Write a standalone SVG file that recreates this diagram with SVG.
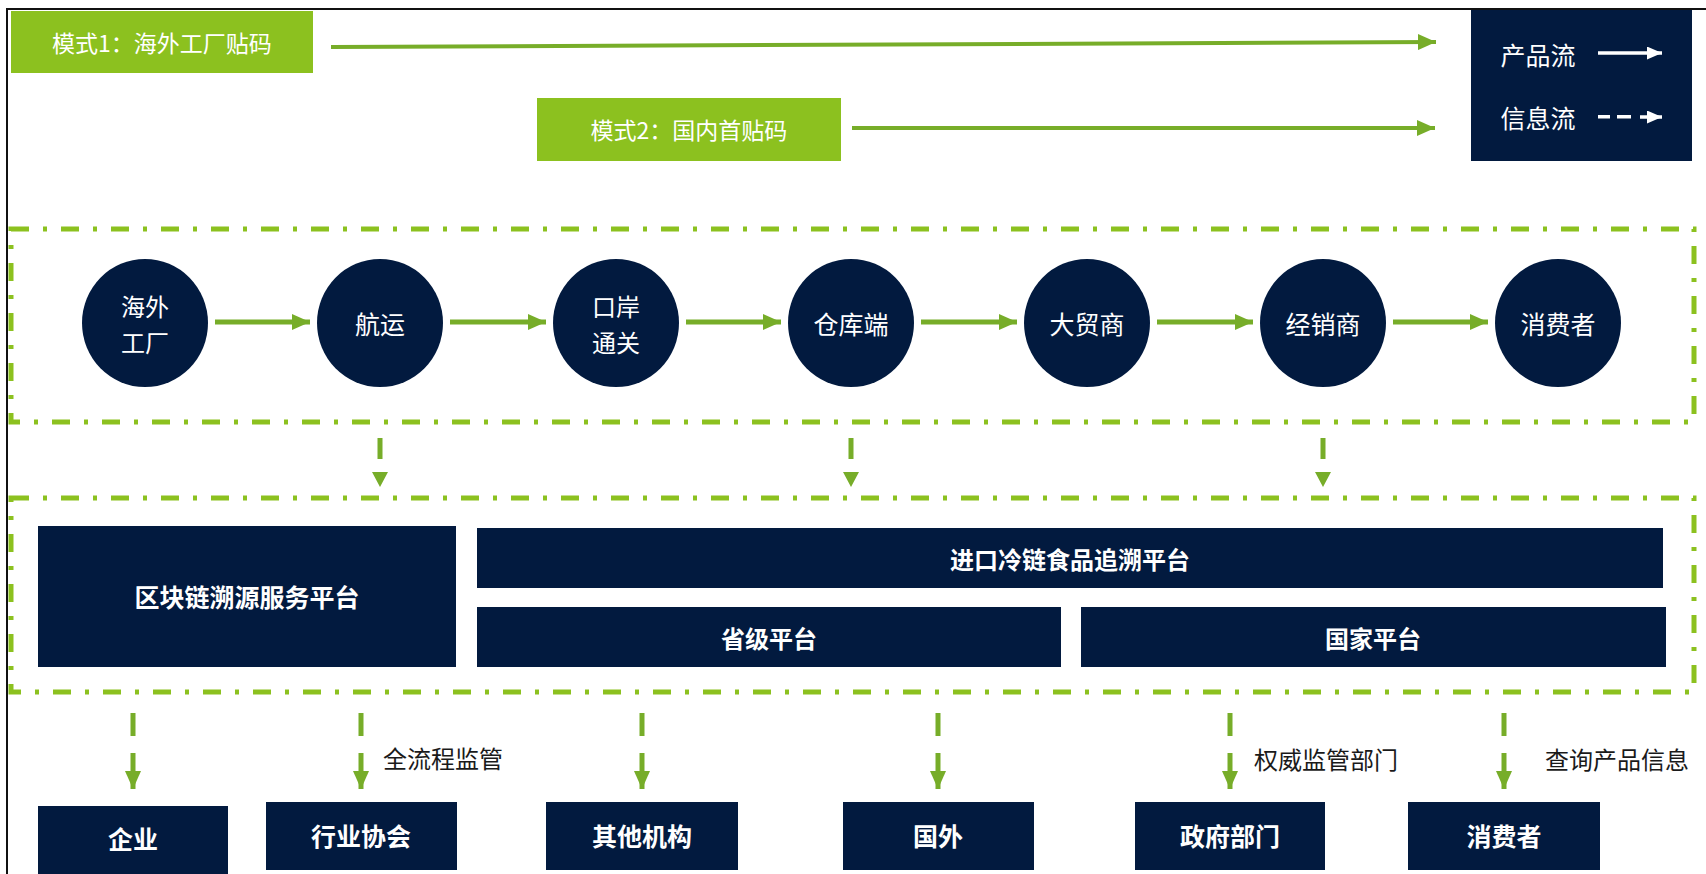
<svg xmlns="http://www.w3.org/2000/svg" width="1706" height="874" viewBox="0 0 1706 874">
<defs>
<style>
.bg{fill:#ffffff}
.navy{fill:#021a3f}
.gbox{fill:#8cc11f}
.t{font-family:"Noto Sans CJK SC","Noto Sans",sans-serif;fill:#ffffff;text-anchor:middle;dominant-baseline:central}
.tb{font-weight:bold}
.lbl{font-family:"Noto Sans CJK SC","Noto Sans",sans-serif;fill:#1a1a1a;font-size:24px;dominant-baseline:central}
.dd{fill:none;stroke:#8cc11f;stroke-width:5;stroke-dasharray:18 14 4 14}
.flow{stroke:#77ad29;stroke-width:5;fill:none}
.mline{stroke:#77ad29;stroke-width:4;fill:none}
.gfill{fill:#77ad29}
</style>
<marker id="ah" markerUnits="userSpaceOnUse" markerWidth="18" markerHeight="16" viewBox="0 0 18 16" refX="18" refY="8" orient="auto">
<path d="M0,0 L18,8 L0,16 Z" fill="#77ad29"/>
</marker>
<marker id="ahw" markerUnits="userSpaceOnUse" markerWidth="15" markerHeight="13" viewBox="0 0 15 13" refX="15" refY="6.5" orient="auto">
<path d="M0,0 L15,6.5 L0,13 Z" fill="#ffffff"/>
</marker>
</defs>
<rect class="bg" x="0" y="0" width="1706" height="874"/>
<g id="frame">
<line x1="6" y1="9" x2="1706" y2="9" stroke="#111" stroke-width="2"/>
<line x1="7" y1="9" x2="7" y2="874" stroke="#111" stroke-width="2"/>
</g>

<g id="mode1">
<rect class="gbox" x="11" y="11" width="302" height="62"/>
<text class="t" x="162" y="42" font-size="23">模式1：海外工厂贴码</text>
</g>
<g id="mode2">
<rect class="gbox" x="537" y="98" width="304" height="63"/>
<text class="t" x="689" y="129" font-size="23">模式2：国内首贴码</text>
</g>
<g id="legend">
<rect class="navy" x="1471" y="10" width="221" height="151"/>
<text class="t" x="1538" y="54" font-size="25">产品流</text>
<text class="t" x="1538" y="117" font-size="25">信息流</text>
<line x1="1598" y1="53" x2="1662" y2="53" stroke="#fff" stroke-width="3.5" marker-end="url(#ahw)"/>
<rect x="1598" y="115" width="12" height="3.5" fill="#fff"/>
<rect x="1617" y="115" width="14" height="3.5" fill="#fff"/>
<line x1="1640" y1="117" x2="1662" y2="117" stroke="#fff" stroke-width="3.5" marker-end="url(#ahw)"/>
</g>

<g id="stage-frame">
<rect class="dd" x="11" y="229" width="1683" height="193"/>
</g>
<g id="platform-frame">
<rect class="dd" x="11" y="498" width="1683" height="194"/>
</g>

<g id="c1"><ellipse class="navy" cx="145" cy="323" rx="63" ry="64"/>
<text class="t" x="145" y="305" font-size="24">海外</text><text class="t" x="145" y="341" font-size="24">工厂</text></g>
<g id="c2"><ellipse class="navy" cx="380" cy="323" rx="63" ry="64"/>
<text class="t" x="380" y="323" font-size="25">航运</text></g>
<g id="c3"><ellipse class="navy" cx="616" cy="323" rx="63" ry="64"/>
<text class="t" x="616" y="305" font-size="24">口岸</text><text class="t" x="616" y="341" font-size="24">通关</text></g>
<g id="c4"><ellipse class="navy" cx="851" cy="323" rx="63" ry="64"/>
<text class="t" x="851" y="323" font-size="25">仓库端</text></g>
<g id="c5"><ellipse class="navy" cx="1087" cy="323" rx="63" ry="64"/>
<text class="t" x="1087" y="323" font-size="25">大贸商</text></g>
<g id="c6"><ellipse class="navy" cx="1323" cy="323" rx="63" ry="64"/>
<text class="t" x="1323" y="323" font-size="25">经销商</text></g>
<g id="c7"><ellipse class="navy" cx="1558" cy="323" rx="63" ry="64"/>
<text class="t" x="1558" y="323" font-size="25">消费者</text></g>

<g id="p-blockchain"><rect class="navy" x="38" y="526" width="418" height="141"/>
<text class="t tb" x="247" y="596" font-size="25">区块链溯源服务平台</text></g>
<g id="p-import"><rect class="navy" x="477" y="528" width="1186" height="60"/>
<text class="t tb" x="1070" y="558" font-size="24">进口冷链食品追溯平台</text></g>
<g id="p-province"><rect class="navy" x="477" y="607" width="584" height="60"/>
<text class="t tb" x="769" y="637" font-size="24">省级平台</text></g>
<g id="p-nation"><rect class="navy" x="1081" y="607" width="585" height="60"/>
<text class="t tb" x="1373" y="637" font-size="24">国家平台</text></g>

<g id="u1"><rect class="navy" x="38" y="806" width="190" height="70"/>
<text class="t tb" x="133" y="838" font-size="25">企业</text></g>
<g id="u2"><rect class="navy" x="266" y="802" width="191" height="68"/>
<text class="t tb" x="361" y="835" font-size="25">行业协会</text></g>
<g id="u3"><rect class="navy" x="546" y="802" width="192" height="68"/>
<text class="t tb" x="642" y="835" font-size="25">其他机构</text></g>
<g id="u4"><rect class="navy" x="843" y="802" width="191" height="68"/>
<text class="t tb" x="938" y="835" font-size="25">国外</text></g>
<g id="u5"><rect class="navy" x="1135" y="802" width="190" height="68"/>
<text class="t tb" x="1230" y="835" font-size="25">政府部门</text></g>
<g id="u6"><rect class="navy" x="1408" y="802" width="192" height="68"/>
<text class="t tb" x="1504" y="835" font-size="25">消费者</text></g>

<g id="connectors">
<line class="mline" x1="331" y1="47" x2="1436" y2="42" marker-end="url(#ah)"/>
<line class="mline" x1="852" y1="128" x2="1435" y2="128" marker-end="url(#ah)"/>

<line class="flow" x1="215" y1="322" x2="310" y2="322" marker-end="url(#ah)"/>
<line class="flow" x1="450" y1="322" x2="546" y2="322" marker-end="url(#ah)"/>
<line class="flow" x1="686" y1="322" x2="781" y2="322" marker-end="url(#ah)"/>
<line class="flow" x1="921" y1="322" x2="1017" y2="322" marker-end="url(#ah)"/>
<line class="flow" x1="1157" y1="322" x2="1253" y2="322" marker-end="url(#ah)"/>
<line class="flow" x1="1393" y1="322" x2="1488" y2="322" marker-end="url(#ah)"/>

<g class="gfill">
<rect x="377.5" y="438" width="5" height="21"/><path d="M372,472 L388,472 L380,487 Z"/>
<rect x="848.5" y="438" width="5" height="21"/><path d="M843,472 L859,472 L851,487 Z"/>
<rect x="1320.5" y="438" width="5" height="21"/><path d="M1315,472 L1331,472 L1323,487 Z"/>

<rect x="130.5" y="713" width="5" height="23"/>
<rect x="358.5" y="713" width="5" height="23"/>
<rect x="639.5" y="713" width="5" height="23"/>
<rect x="935.5" y="713" width="5" height="23"/>
<rect x="1227.5" y="713" width="5" height="23"/>
<rect x="1501.5" y="713" width="5" height="23"/>
</g>
<line class="flow" x1="133" y1="753" x2="133" y2="789" marker-end="url(#ah)"/>
<line class="flow" x1="361" y1="753" x2="361" y2="789" marker-end="url(#ah)"/>
<line class="flow" x1="642" y1="753" x2="642" y2="789" marker-end="url(#ah)"/>
<line class="flow" x1="938" y1="753" x2="938" y2="789" marker-end="url(#ah)"/>
<line class="flow" x1="1230" y1="753" x2="1230" y2="789" marker-end="url(#ah)"/>
<line class="flow" x1="1504" y1="753" x2="1504" y2="789" marker-end="url(#ah)"/>

<text class="lbl" x="383" y="757">全流程监管</text>
<text class="lbl" x="1254" y="758">权威监管部门</text>
<text class="lbl" x="1545" y="758">查询产品信息</text>
</g>
</svg>
